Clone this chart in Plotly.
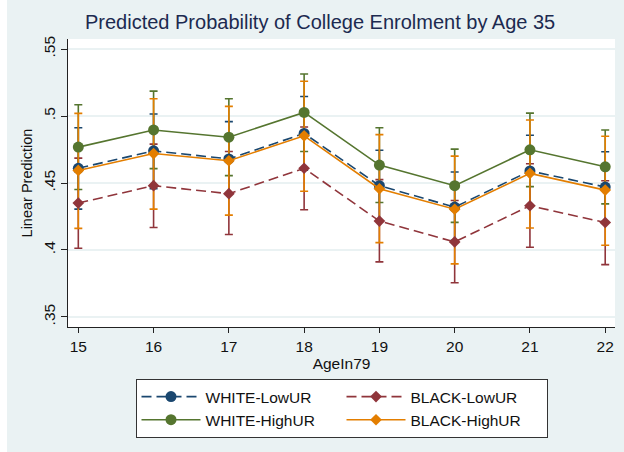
import plotly.graph_objects as go

ages = [15, 16, 17, 18, 19, 20, 21, 22]
series_names = ["WHITE-LowUR", "BLACK-LowUR", "WHITE-HighUR", "BLACK-HighUR"]

white_low_est = [0.461, 0.474, 0.468, 0.487, 0.448, 0.432, 0.459, 0.447]
white_low_hi = [0.4913, 0.5015, 0.4958, 0.5146, 0.4745, 0.4582, 0.4856, 0.4733]
white_low_lo = [0.4305, 0.4458, 0.4418, 0.4596, 0.4215, 0.4072, 0.4332, 0.4213]

black_low_est = [0.435, 0.448, 0.442, 0.461, 0.4216, 0.406, 0.433, 0.4205]
black_low_hi = [0.4686, 0.479, 0.4735, 0.4918, 0.4525, 0.4369, 0.4644, 0.4517]
black_low_lo = [0.4013, 0.4168, 0.4116, 0.430, 0.3911, 0.3755, 0.402, 0.3891]

white_high_est = [0.4768, 0.4896, 0.4842, 0.5027, 0.4634, 0.448, 0.4748, 0.4621]
white_high_hi = [0.5084, 0.5186, 0.5129, 0.5314, 0.4913, 0.4753, 0.5022, 0.4896]
white_high_lo = [0.4451, 0.4607, 0.4555, 0.4735, 0.4354, 0.4206, 0.4473, 0.4344]

black_high_est = [0.4594, 0.472, 0.4666, 0.4852, 0.4457, 0.4304, 0.4572, 0.4447]
black_high_hi = [0.502, 0.5129, 0.5072, 0.526, 0.4861, 0.4701, 0.497, 0.4849]
black_high_lo = [0.4161, 0.4305, 0.426, 0.4438, 0.4055, 0.3896, 0.4164, 0.4035]

y_tickvals = [0.35, 0.40, 0.45, 0.50, 0.55]
y_ticktext = [".35", ".4", ".45", ".5", ".55"]

est = [white_low_est, black_low_est, white_high_est, black_high_est]
his = [white_low_hi, black_low_hi, white_high_hi, black_high_hi]
los = [white_low_lo, black_low_lo, white_high_lo, black_high_lo]
colors = ["#1a476f", "#90353b", "#55752f", "#e37e00"]
dashes = ["10px,5px", "10px,5px", "solid", "solid"]
symbols = ["circle", "diamond", "circle", "diamond"]
sizes = [11, 9, 11, 9]

FONT = "Liberation Sans, Arial, sans-serif"
fig = go.Figure()

# confidence intervals first
for i in range(4):
    plus = [h - e for h, e in zip(his[i], est[i])]
    minus = [e - l for e, l in zip(est[i], los[i])]
    fig.add_trace(go.Scatter(
        x=ages, y=est[i], mode="markers",
        marker=dict(size=1, opacity=0, color=colors[i]),
        error_y=dict(type="data", array=plus, arrayminus=minus,
                     color=colors[i], thickness=1.6, width=4),
        showlegend=False, hoverinfo="skip"))

for i in range(4):
    fig.add_trace(go.Scatter(
        x=ages, y=est[i], mode="lines+markers", name=series_names[i],
        line=dict(color=colors[i], width=1.6, dash=dashes[i]),
        marker=dict(symbol=symbols[i], size=sizes[i], color=colors[i]),
    ))

fig.add_shape(type="rect", xref="paper", yref="paper",
              x0=-68/547, x1=-61/547, y0=-125/288, y1=1 + 39/288,
              fillcolor="white", line=dict(width=0), layer="below")

fig.update_layout(
    width=624, height=452,
    margin=dict(l=68, r=9, t=39, b=125),
    paper_bgcolor="#eaf2f3",
    plot_bgcolor="white",
    font=dict(family=FONT, size=15.5, color="#111111"),
    title=dict(text="Predicted Probability of College Enrolment by Age 35",
               x=0.513, xanchor="center", y=0.951, yanchor="middle",
               font=dict(family=FONT, size=20, color="#1c2a50")),
    xaxis=dict(range=[14.863, 22.13], tickvals=ages, ticks="outside",
               ticklen=5, tickwidth=1, tickcolor="#222",
               showline=True, linecolor="#222", linewidth=1,
               showgrid=False, zeroline=False,
               tickfont=dict(size=15.5, color="#111"),
               title=dict(text="AgeIn79", font=dict(size=15.5, color="#111"), standoff=3)),
    yaxis=dict(range=[0.3425, 0.5575], tickvals=y_tickvals, ticktext=y_ticktext,
               tickangle=-90, ticks="outside", ticklen=6, tickwidth=1, tickcolor="#222",
               showline=True, linecolor="#222", linewidth=1,
               showgrid=True, gridcolor="#eaf2f3", gridwidth=1.5, zeroline=False,
               tickfont=dict(size=15.5, color="#111"),
               title=dict(text="Linear Prediction", font=dict(size=14.5, color="#111"), standoff=4)),
    legend=dict(orientation="h", x=0.5, xanchor="center", y=-52/288, yanchor="top",
                bgcolor="white", bordercolor="#333", borderwidth=1,
                itemwidth=59, entrywidth=131, traceorder="normal",
                font=dict(family=FONT, size=15.5, color="#111")),
)

fig.write_html("out.html", config={"displayModeBar": False},
               post_script="document.body.style.margin='0';")
